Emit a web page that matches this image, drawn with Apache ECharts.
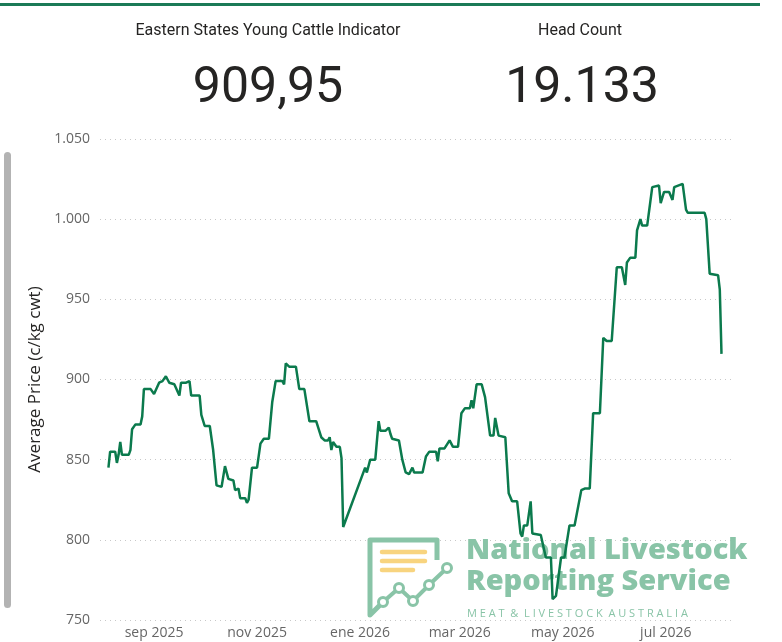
<!DOCTYPE html>
<html lang="en">
<head>
    <meta charset="UTF-8">
    <title>Eastern States Young Cattle Indicator</title>
    <script type="text/javascript" src="https://cdn.jsdelivr.net/npm/echarts@6.0.0/dist/echarts.min.js"></script>
    <style>
        html, body { margin: 0; padding: 0; background: #fff; }
        #chart { width: 782px; height: 642px; }
    </style>
</head>
<body>
<div id="chart"></div>
<script type="text/javascript">

    // daily indicator (c/kg cwt)
    var dates = [
        '2025-08-05', '2025-08-06', '2025-08-09', '2025-08-10', '2025-08-11', '2025-08-12', '2025-08-13', '2025-08-17',
        '2025-08-18', '2025-08-19', '2025-08-21', '2025-08-24', '2025-08-25', '2025-08-26', '2025-08-30', '2025-09-01',
        '2025-09-04', '2025-09-06', '2025-09-08', '2025-09-09', '2025-09-10', '2025-09-13', '2025-09-16', '2025-09-17',
        '2025-09-20', '2025-09-22', '2025-09-23', '2025-09-28', '2025-09-29', '2025-10-01', '2025-10-04', '2025-10-06',
        '2025-10-08', '2025-10-09', '2025-10-11', '2025-10-13', '2025-10-15', '2025-10-18', '2025-10-19', '2025-10-21',
        '2025-10-22', '2025-10-25', '2025-10-26', '2025-10-27', '2025-10-29', '2025-11-01', '2025-11-03', '2025-11-05',
        '2025-11-08', '2025-11-10', '2025-11-12', '2025-11-16', '2025-11-17', '2025-11-18', '2025-11-20', '2025-11-24',
        '2025-11-26', '2025-11-29', '2025-12-02', '2025-12-06', '2025-12-09', '2025-12-11', '2025-12-13', '2025-12-14',
        '2025-12-15', '2025-12-16', '2025-12-18', '2025-12-20', '2025-12-21', '2025-12-22',
        '2026-01-04', '2026-01-05', '2026-01-07', '2026-01-10', '2026-01-12', '2026-01-13', '2026-01-16', '2026-01-18',
        '2026-01-19', '2026-01-20', '2026-01-24', '2026-01-26', '2026-01-28', '2026-01-30', '2026-02-01', '2026-02-02',
        '2026-02-07', '2026-02-09', '2026-02-11', '2026-02-15', '2026-02-16', '2026-02-17', '2026-02-20', '2026-02-21',
        '2026-02-23', '2026-02-25', '2026-02-28', '2026-03-02', '2026-03-04', '2026-03-07', '2026-03-08', '2026-03-09',
        '2026-03-11', '2026-03-14', '2026-03-16', '2026-03-19', '2026-03-21', '2026-03-22', '2026-03-24', '2026-03-28',
        '2026-03-30', '2026-04-01', '2026-04-04', '2026-04-06', '2026-04-07', '2026-04-08', '2026-04-10', '2026-04-12',
        '2026-04-13', '2026-04-18', '2026-04-21', '2026-04-24', '2026-04-25', '2026-04-27', '2026-04-28', '2026-04-30',
        '2026-05-02', '2026-05-05', '2026-05-08', '2026-05-12', '2026-05-14', '2026-05-17', '2026-05-19', '2026-05-23',
        '2026-05-25', '2026-05-27', '2026-05-30', '2026-06-02', '2026-06-05', '2026-06-07', '2026-06-08', '2026-06-10',
        '2026-06-13', '2026-06-14', '2026-06-16', '2026-06-17', '2026-06-20', '2026-06-23', '2026-06-27', '2026-06-28',
        '2026-06-30', '2026-07-03', '2026-07-05', '2026-07-06', '2026-07-11', '2026-07-13', '2026-07-14', '2026-07-18',
        '2026-07-19', '2026-07-21', '2026-07-24', '2026-07-25', '2026-07-27', '2026-08-01', '2026-08-02', '2026-08-03'
    ];
    var prices = [
        845, 855, 855, 848, 853, 861, 853, 853,
        856, 869, 872, 872, 877, 894, 894, 891,
        898, 899, 902, 900, 898, 897, 890, 898,
        898, 899, 890, 890, 878, 871, 871, 856,
        834, 833, 833, 846, 838, 837, 831, 832,
        826, 826, 823, 825, 845, 845, 860, 863,
        863, 886, 899, 899, 897, 910, 908, 908,
        894, 894, 874, 874, 864, 862, 862, 864,
        856, 861, 858, 858, 851, 808,
        845, 842, 850, 850, 874, 868, 868, 870,
        866, 863, 862, 850, 842, 841, 845, 842,
        842, 852, 855, 855, 849, 857, 857, 856,
        862, 858, 858, 879, 882, 882, 887, 882,
        897, 897, 889, 865, 865, 876, 865, 864,
        829, 824, 824, 804, 802, 809, 809, 824,
        804, 803, 789, 789, 763, 765, 765, 789,
        789, 809, 809, 831, 832, 832, 879, 879,
        926, 924, 924, 970, 970, 959, 973, 976,
        976, 993, 1000, 996, 996, 1020, 1021, 1010,
        1017, 1017, 1012, 1020, 1022, 1006, 1004, 1004,
        1005, 1004, 1004, 1000, 966, 965, 956, 916
    ];

    var tickDates = ['2025-09-01', '2025-11-01', '2026-01-01', '2026-03-01', '2026-05-01', '2026-07-01'];
    var tickLabels = ['sep 2025', 'nov 2025', 'ene 2026', 'mar 2026', 'may 2026', 'jul 2026'];

    var cardTitles = ['Eastern States Young Cattle Indicator', 'Head Count'];
    var cardValues = ['909,95', '19.133'];

    var green = '#0b7a4d';
    var logoGreen = '#89c4a7';
    var logoYellow = '#f8d47f';

    function ts(s) {
        var p = s.split('-');
        return new Date(+p[0], +p[1] - 1, +p[2]).getTime();
    }

    function thousands(v) {
        return String(v).replace(/\B(?=(\d{3})+(?!\d))/g, '.');
    }

    var tickTimes = tickDates.map(ts);
    var seriesData = dates.map(function (d, i) {
        return [ts(d), prices[i]];
    });

    function text(x, y, str, size, color, weight, family, align) {
        return {
            type: 'text', x: x, y: y, z: 1, silent: true,
            style: {
                text: str, fill: color,
                font: (weight || 'normal') + ' ' + size + 'px ' + (family || 'Roboto, sans-serif'),
                align: align || 'center', textAlign: align || 'center',
                verticalAlign: 'middle', textVerticalAlign: 'middle'
            }
        };
    }

    var logoLine = [[383, 602], [399, 588], [413, 601], [429, 585], [447, 568]];
    var logoFont = '"Open Sans", sans-serif';

    var graphics = [
        // green border on top
        {type: 'rect', z: 1, shape: {x: 0, y: 3, width: 760, height: 3}, style: {fill: '#1b7a57'}},
        // scroll bar on the left
        {type: 'rect', z: 1, shape: {x: 4, y: 152, width: 7, height: 456, r: 3.5}, style: {fill: '#b3b3b3'}},
        text(268, 31, cardTitles[0], 16, '#252423'),
        text(580, 31, cardTitles[1], 16, '#252423'),
        text(268, 89, cardValues[0], 50, '#252423'),
        text(582, 89, cardValues[1], 50, '#252423'),

        // NLRS logo watermark
        {type: 'polyline', z: 1, shape: {points: [[437, 560], [437, 540], [370, 540], [370, 615], [383, 602]]},
            style: {stroke: logoGreen, lineWidth: 5, fill: null, lineJoin: 'round'}},
        {type: 'line', z: 1, shape: {x1: 382, y1: 552, x2: 425, y2: 552}, style: {stroke: logoYellow, lineWidth: 4.5, lineCap: 'round'}},
        {type: 'line', z: 1, shape: {x1: 382, y1: 561, x2: 425, y2: 561}, style: {stroke: logoYellow, lineWidth: 4.5, lineCap: 'round'}},
        {type: 'line', z: 1, shape: {x1: 382, y1: 570, x2: 413, y2: 570}, style: {stroke: logoYellow, lineWidth: 4.5, lineCap: 'round'}},
        {type: 'polyline', z: 1, shape: {points: logoLine}, style: {stroke: logoGreen, lineWidth: 4, fill: null}},
        text(466, 551, 'National Livestock', 29, logoGreen, 800, logoFont, 'left'),
        text(466, 582, 'Reporting Service', 29, logoGreen, 800, logoFont, 'left'),
        text(467, 614, 'M E A T  &  L I V E S T O C K  A U S T R A L I A', 11, logoGreen, 'normal', logoFont, 'left')
    ];
    logoLine.forEach(function (p) {
        graphics.push({type: 'circle', z: 1, shape: {cx: p[0], cy: p[1], r: 4.5},
            style: {fill: '#fff', stroke: logoGreen, lineWidth: 3}});
    });

    var myChart = echarts.init(document.getElementById('chart'));
    var option = {
        animation: false,
        backgroundColor: '#fff',
        grid: {left: 100, right: 47, top: 139, bottom: 22},
        xAxis: {
            type: 'value',
            min: ts('2025-07-31'),
            max: ts('2026-08-11'),
            axisLine: {show: false},
            axisTick: {show: false},
            splitLine: {show: false},
            axisLabel: {
                customValues: tickTimes,
                margin: 6,
                color: '#666666',
                fontSize: 14,
                fontFamily: '"Open Sans", sans-serif',
                formatter: function (v) {
                    var i = tickTimes.indexOf(v);
                    return i < 0 ? '' : tickLabels[i];
                }
            }
        },
        yAxis: {
            type: 'value',
            min: 750,
            max: 1050,
            interval: 50,
            name: 'Average Price (c/kg cwt)',
            nameLocation: 'middle',
            nameGap: 56,
            nameTextStyle: {color: '#252423', fontSize: 17, fontFamily: '"Open Sans", sans-serif'},
            axisLine: {show: false},
            axisTick: {show: false},
            axisLabel: {
                margin: 10,
                color: '#666666',
                fontSize: 14,
                fontFamily: '"Open Sans", sans-serif',
                formatter: thousands
            },
            splitLine: {lineStyle: {color: '#c8c8c8', type: [1, 4], width: 1}}
        },
        graphic: graphics,
        series: [{
            type: 'line',
            z: 5,
            data: seriesData,
            showSymbol: false,
            lineStyle: {color: green, width: 2.5},
            itemStyle: {color: green}
        }]
    };
    myChart.setOption(option);

</script>
</body>
</html>
